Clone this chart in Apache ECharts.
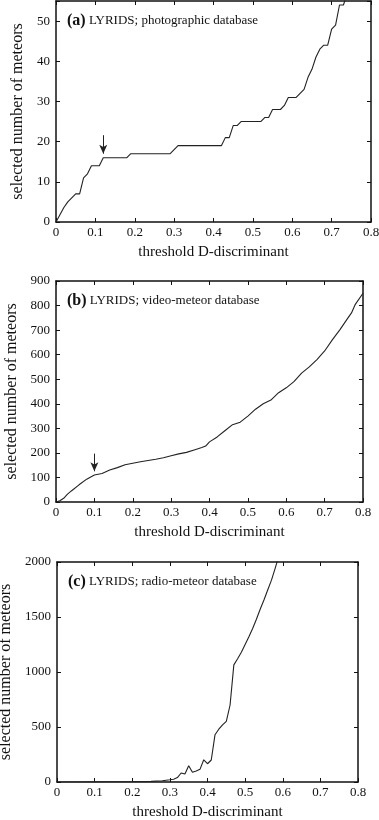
<!DOCTYPE html>
<html>
<head>
<meta charset="utf-8">
<script src="https://cdn.jsdelivr.net/npm/echarts@6/dist/echarts.min.js"></script>
<style>
html, body { margin: 0; padding: 0; background: #fff; }
#chart { width: 379px; height: 820px; }
</style>
</head>
<body>
<div id="chart"></div>
<script>
// (a) photographic database - step-like counts
const photoD = [0, 0.01, 0.02, 0.03, 0.04, 0.05, 0.06, 0.07, 0.08, 0.09, 0.11, 0.12, 0.18, 0.19, 0.29, 0.30, 0.31, 0.42, 0.43, 0.44, 0.45, 0.46, 0.47, 0.52, 0.53, 0.54, 0.55, 0.57, 0.58, 0.59, 0.61, 0.62, 0.63, 0.64, 0.65, 0.66, 0.67, 0.68, 0.69, 0.70, 0.71, 0.72, 0.73, 0.74]
const photoN = [0, 1.8, 3.6, 5, 6, 7, 7, 11, 12, 14, 14, 16, 16, 17, 17, 18, 19, 19, 21, 21, 24, 24, 25, 25, 26, 26, 28, 28, 29, 31, 31, 32, 33, 36, 38, 41, 43, 44, 44, 48, 49, 54, 54, 57]

// (b) video-meteor database
const videoD = [0, 0.01, 0.02, 0.03, 0.04, 0.06, 0.08, 0.10, 0.12, 0.14, 0.16, 0.18, 0.20, 0.22, 0.24, 0.26, 0.28, 0.30, 0.32, 0.34, 0.36, 0.38, 0.39, 0.40, 0.42, 0.44, 0.46, 0.48, 0.50, 0.52, 0.54, 0.56, 0.58, 0.60, 0.62, 0.64, 0.66, 0.68, 0.70, 0.72, 0.74, 0.76, 0.77, 0.78, 0.80]
const videoN = [0, 5, 15, 32, 45, 70, 93, 110, 116, 130, 140, 152, 158, 164, 169, 174, 180, 188, 196, 202, 212, 222, 228, 245, 265, 290, 315, 325, 350, 378, 400, 415, 445, 465, 490, 525, 550, 580, 615, 660, 702, 748, 770, 805, 850]

// (c) radio-meteor database
const radioD = [0, 0.05, 0.10, 0.15, 0.20, 0.25, 0.28, 0.30, 0.31, 0.32, 0.33, 0.34, 0.35, 0.36, 0.37, 0.38, 0.39, 0.40, 0.41, 0.42, 0.43, 0.44, 0.45, 0.46, 0.47, 0.48, 0.49, 0.50, 0.51, 0.52, 0.53, 0.54, 0.55, 0.56, 0.57, 0.58, 0.59]
const radioN = [0, 0, 1, 2, 3, 6, 12, 20, 25, 40, 82, 72, 148, 88, 100, 115, 202, 166, 200, 430, 480, 520, 552, 700, 1065, 1120, 1180, 1250, 1320, 1395, 1480, 1570, 1655, 1745, 1835, 1945, 2060]

const xTicks = [0, 0.8, 0.1]
const yMax = [55, 900, 2000]
const yStep = [10, 100, 500]
const panelLabels = ['(a)', '(b)', '(c)']
const panelTitles = ['LYRIDS; photographic database', 'LYRIDS; video-meteor database', 'LYRIDS; radio-meteor database']

// arrows marking the chosen threshold
const arrowA = [[0.12, 21.6], [0.12, 17]]
const arrowB = [[0.10, 197], [0.10, 125]]

const FONT = 'Liberation Serif'
const INK = '#111'

const grids = [
  { left: 56, top: 1, width: 315, height: 221, outerBoundsMode: 'none' },
  { left: 56, top: 281, width: 307, height: 221, outerBoundsMode: 'none' },
  { left: 57, top: 562, width: 301, height: 220, outerBoundsMode: 'none' }
]

function pairs(xs, ys) {
  return xs.map((x, i) => [x, ys[i]])
}

const xAxes = []
const yAxes = []
grids.forEach((g, i) => {
  const base = {
    type: 'value',
    gridIndex: i,
    min: xTicks[0],
    max: xTicks[1],
    interval: xTicks[2],
    axisLine: { show: true, onZero: false, lineStyle: { color: INK, width: 1.5 } },
    axisTick: { show: true, inside: true, length: 4, lineStyle: { color: INK, width: 1 } },
    splitLine: { show: false }
  }
  xAxes.push(Object.assign({}, base, {
    position: 'bottom',
    name: 'threshold D-discriminant',
    nameLocation: 'middle',
    nameGap: 23,
    nameTextStyle: { fontFamily: FONT, fontSize: 15, color: INK },
    axisLabel: {
      fontFamily: FONT, fontSize: 13, color: INK, margin: 4,
      formatter: v => (v === 0 ? '0' : v.toFixed(1))
    }
  }))
  xAxes.push(Object.assign({}, base, { position: 'top', axisLabel: { show: false } }))

  const ybase = {
    type: 'value',
    gridIndex: i,
    min: 0,
    max: yMax[i],
    interval: yStep[i],
    axisLine: { show: true, onZero: false, lineStyle: { color: INK, width: 1.5 } },
    axisTick: { show: true, inside: true, length: 4, lineStyle: { color: INK, width: 1 } },
    splitLine: { show: false }
  }
  const step = yStep[i]
  yAxes.push(Object.assign({}, ybase, {
    position: 'left',
    name: 'selected number of meteors',
    nameLocation: 'middle',
    nameGap: 26,
    nameTextStyle: { fontFamily: FONT, fontSize: 16, color: INK },
    axisLabel: {
      fontFamily: FONT, fontSize: 13, color: INK, margin: 6,
      formatter: v => (v % step === 0 ? String(v) : '')
    }
  }))
  yAxes.push(Object.assign({}, ybase, { position: 'right', axisLabel: { show: false } }))
})

function arrowLine(a) {
  return {
    silent: true,
    symbol: ['none', 'arrow'],
    symbolSize: [6, 9],
    label: { show: false },
    lineStyle: { color: '#222', width: 1, type: 'solid' },
    data: [[{ coord: a[0] }, { coord: a[1] }]]
  }
}

const lineStyle = { color: '#222', width: 1.1 }

const series = [
  {
    type: 'line', xAxisIndex: 0, yAxisIndex: 0,
    data: pairs(photoD, photoN), showSymbol: false, lineStyle: lineStyle,
    markLine: arrowLine(arrowA)
  },
  {
    type: 'line', xAxisIndex: 2, yAxisIndex: 2,
    data: pairs(videoD, videoN), showSymbol: false, lineStyle: lineStyle,
    markLine: arrowLine(arrowB)
  },
  {
    type: 'line', xAxisIndex: 4, yAxisIndex: 4,
    data: pairs(radioD, radioN), showSymbol: false, lineStyle: lineStyle
  }
]

const titles = grids.map((g, i) => ({
  text: '{b|' + panelLabels[i] + '} ' + panelTitles[i],
  left: g.left + 6,
  top: g.top + 7,
  textStyle: {
    fontFamily: FONT, fontSize: 13, fontWeight: 'normal', color: INK,
    rich: { b: { fontFamily: FONT, fontSize: 16, fontWeight: 'bold', color: INK } }
  }
}))

const chart = echarts.init(document.getElementById('chart'))
chart.setOption({
  animation: false,
  backgroundColor: '#fff',
  title: titles,
  grid: grids,
  xAxis: xAxes,
  yAxis: yAxes,
  series: series
})
</script>
</body>
</html>
